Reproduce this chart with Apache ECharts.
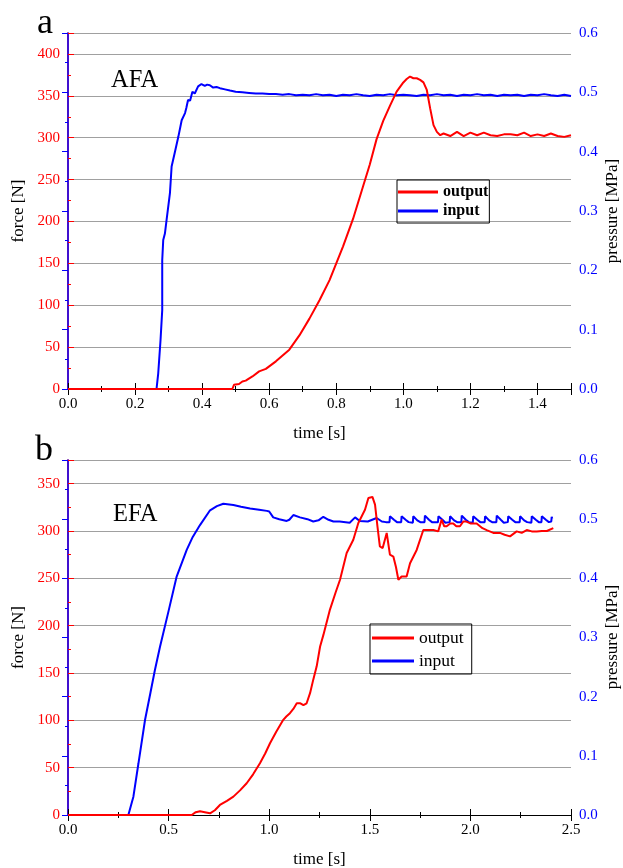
<!DOCTYPE html>
<html>
<head>
<meta charset="utf-8">
<script src="https://cdn.jsdelivr.net/npm/echarts@6/dist/echarts.min.js"></script>
<style>html,body{margin:0;padding:0;background:#fff;overflow:hidden;}#c{width:623px;height:868px;}</style>
</head>
<body>
<div id="c"></div>
<script>
// ---------- Panel a (AFA) ----------
const afaOutT = [0, 0.49, 0.495, 0.5, 0.51, 0.52, 0.53, 0.55, 0.57, 0.59, 0.6, 0.62, 0.64, 0.66, 0.69, 0.72, 0.75, 0.78, 0.8, 0.82, 0.85, 0.88, 0.9, 0.92, 0.94, 0.96, 0.98, 1.0, 1.01, 1.02, 1.03, 1.04, 1.05, 1.06, 1.07, 1.08, 1.09, 1.1, 1.11, 1.12, 1.14, 1.16, 1.18, 1.2, 1.22, 1.24, 1.26, 1.28, 1.3, 1.32, 1.34, 1.36, 1.38, 1.4, 1.42, 1.44, 1.46, 1.48, 1.5];
const afaOutF = [0, 0, 5, 6, 6, 9, 10, 15, 21, 24, 27, 33, 40, 47, 64, 84, 106, 130, 150, 170, 203, 242, 268, 298, 320, 338, 355, 366, 370, 373, 371, 371, 369, 366, 357, 335, 315, 307, 303, 305, 302, 307, 302, 306, 303, 306, 303, 302, 304, 304, 303, 306, 302, 304, 302, 305, 302, 301, 303];

const afaInT = [0, 0.264, 0.269, 0.276, 0.281, 0.281, 0.284, 0.289, 0.294, 0.304, 0.309, 0.319, 0.329, 0.339, 0.349, 0.353, 0.358, 0.364, 0.371, 0.378, 0.388, 0.398, 0.408, 0.415, 0.423, 0.433, 0.443, 0.453, 0.468, 0.483, 0.5, 0.52, 0.54, 0.56, 0.58, 0.6,
  0.62, 0.64, 0.66, 0.68, 0.7, 0.72, 0.74, 0.76, 0.78, 0.8, 0.82, 0.84, 0.86, 0.88, 0.9, 0.92, 0.94, 0.96, 0.98, 1.0, 1.02, 1.04, 1.06, 1.08, 1.1, 1.12, 1.14, 1.16, 1.18, 1.2, 1.22, 1.24, 1.26, 1.28, 1.3, 1.32, 1.34, 1.36, 1.38, 1.4, 1.42, 1.44, 1.46, 1.48, 1.5];
const afaInP = [0, 0, 0.026, 0.083, 0.133, 0.217, 0.251, 0.262, 0.285, 0.33, 0.375, 0.4, 0.425, 0.453, 0.465, 0.474, 0.487, 0.486, 0.501, 0.498, 0.51, 0.514, 0.511, 0.513, 0.512, 0.508, 0.509, 0.507, 0.505, 0.503, 0.501, 0.5, 0.499, 0.498, 0.498, 0.497,
  0.497, 0.496, 0.497, 0.495, 0.496, 0.495, 0.497, 0.495, 0.496, 0.494, 0.496, 0.495, 0.497, 0.495, 0.494, 0.496, 0.495, 0.497, 0.495, 0.496, 0.495, 0.494, 0.496, 0.495, 0.497, 0.495, 0.496, 0.494, 0.496, 0.495, 0.497, 0.495, 0.496, 0.494, 0.496, 0.495, 0.496, 0.494, 0.496, 0.495, 0.497, 0.495, 0.494, 0.496, 0.494];

// ---------- Panel b (EFA) ----------
const efaOutT = [0, 0.615, 0.635, 0.656, 0.68, 0.706, 0.73, 0.755, 0.79, 0.822, 0.855, 0.888, 0.92, 0.954, 0.98, 1.004, 1.035, 1.07, 1.085, 1.103, 1.12, 1.137, 1.155, 1.17, 1.186, 1.203, 1.219, 1.236, 1.253, 1.269, 1.302, 1.33, 1.352, 1.385, 1.418, 1.443, 1.476, 1.493, 1.5, 1.513, 1.526, 1.538, 1.55, 1.564, 1.584, 1.6, 1.617, 1.63, 1.642, 1.658, 1.683, 1.7, 1.733, 1.766, 1.79, 1.816, 1.84, 1.857, 1.87, 1.882, 1.9, 1.915, 1.93, 1.948, 1.965, 1.98, 2.0, 2.031, 2.06, 2.081, 2.114, 2.147, 2.17, 2.197, 2.23, 2.255, 2.28, 2.305, 2.33, 2.355, 2.38, 2.412];
const efaOutF = [0, 0, 3, 4, 3, 1.8, 5, 10.6, 15, 19.4, 26, 33.5, 43, 54.7, 65, 75.8, 88, 100.5, 104, 107.5, 112, 118, 118, 116, 118, 128.7, 143, 157, 178, 190, 217, 235, 248.5, 276.7, 290.8, 308.4, 322.5, 334.9, 336.6, 336, 327.8, 305, 283.7, 282, 297.9, 275, 273, 262, 248.5, 252, 252, 266, 280, 301, 301, 301, 299.6, 312, 305, 305, 308, 308, 305, 305, 310, 310, 308, 308, 303, 301, 298, 298, 296, 294.3, 299.6, 298, 301, 299.6, 299.6, 300, 300, 303];

const efaInT = [0, 0.3, 0.325, 0.35, 0.383, 0.41, 0.432, 0.457, 0.5, 0.54, 0.59, 0.62, 0.656, 0.706, 0.74, 0.772, 0.822, 0.86, 0.905, 0.95, 0.988, 1.0, 1.02, 1.05, 1.087, 1.1, 1.12, 1.153, 1.19, 1.219, 1.245, 1.269, 1.295, 1.319, 1.35, 1.4, 1.427, 1.45, 1.49, 1.534, 1.56, 1.58,
  1.598, 1.6, 1.62, 1.635, 1.656, 1.658, 1.678, 1.693, 1.714, 1.716, 1.736, 1.751, 1.772, 1.774, 1.794, 1.809, 1.839, 1.841, 1.861, 1.876, 1.897, 1.899, 1.919, 1.934, 1.955, 1.957, 1.977, 1.992, 2.012, 2.014, 2.034, 2.049, 2.071, 2.073, 2.093, 2.108, 2.129, 2.131, 2.151, 2.166, 2.186, 2.188, 2.208, 2.223, 2.245, 2.247, 2.267, 2.282, 2.303, 2.305, 2.325, 2.34, 2.353, 2.355, 2.375, 2.39, 2.402, 2.404, 2.407];
const efaInP = [0, 0, 0.031, 0.087, 0.161, 0.207, 0.245, 0.284, 0.345, 0.403, 0.448, 0.47, 0.49, 0.515, 0.522, 0.526, 0.524, 0.521, 0.518, 0.516, 0.514, 0.513, 0.503, 0.5, 0.497, 0.499, 0.507, 0.503, 0.5, 0.496, 0.498, 0.504, 0.499, 0.496, 0.496, 0.494, 0.503, 0.497, 0.496, 0.502, 0.496, 0.495,
  0.495, 0.505, 0.499, 0.495, 0.495, 0.505, 0.499, 0.495, 0.494, 0.505, 0.498, 0.495, 0.495, 0.506, 0.499, 0.495, 0.495, 0.505, 0.499, 0.494, 0.495, 0.505, 0.498, 0.495, 0.495, 0.506, 0.499, 0.495, 0.494, 0.505, 0.499, 0.495, 0.495, 0.505, 0.498, 0.495, 0.495, 0.506, 0.499, 0.494, 0.495, 0.505, 0.499, 0.495, 0.495, 0.505, 0.498, 0.495, 0.494, 0.505, 0.499, 0.495, 0.495, 0.505, 0.499, 0.495, 0.496, 0.504, 0.501];

const legendNames = ['output', 'input'];
const panelLabels = ['a', 'b'];
const panelTitles = ['AFA', 'EFA'];
const rightName = 'pressure [MPa]';

const zip = (a, b) => a.map((v, i) => [v, b[i]]);
const FONT = 'Liberation Serif';
const RED = '#ff0000', BLUE = '#0000ff', GRIDC = '#a0a0a0';

function xAxes(gi, max, interval) {
  const base = {
    gridIndex: gi, type: 'value', min: 0, max: max, interval: interval,
    axisLine: { lineStyle: { color: '#000', width: 1.2 } },
    axisTick: { inside: true, length: 6, lineStyle: { color: '#000' } },
    minorTick: { show: true, splitNumber: 2, length: 3, lineStyle: { color: '#000' } },
    splitLine: { show: false }
  };
  return [
    Object.assign({}, base, {
      position: 'bottom',
      name: 'time [s]', nameLocation: 'middle', nameGap: 36,
      nameTextStyle: { fontFamily: FONT, fontSize: 17, color: '#000' },
      axisLabel: { fontFamily: FONT, fontSize: 15, color: '#000', margin: 8, showMaxLabel: (max / interval) % 1 === 0,
        formatter: v => v.toFixed(1) }
    }),
    Object.assign({}, base, { position: 'top', axisLabel: { show: false } })
  ];
}
function yAxes(gi, max) {
  return [
    {
      gridIndex: gi, type: 'value', position: 'left', min: 0, max: max, interval: 50,
      name: 'force [N]', nameLocation: 'middle', nameGap: 38,
      nameTextStyle: { fontFamily: FONT, fontSize: 17, color: '#000' },
      axisLine: { show: true, lineStyle: { color: RED, width: 1.5 } },
      axisTick: { show: true, inside: true, length: 6, lineStyle: { color: RED } },
      minorTick: { show: true, splitNumber: 2, length: 3, lineStyle: { color: RED } },
      axisLabel: { fontFamily: FONT, fontSize: 15, color: RED, margin: 8, showMaxLabel: false },
      splitLine: { show: true, lineStyle: { color: GRIDC, width: 1 } }
    },
    {
      gridIndex: gi, type: 'value', position: 'right', min: 0, max: 0.6, interval: 0.1,
      axisLine: { show: true, lineStyle: { color: BLUE, width: 1.5 } },
      axisTick: { show: true, inside: true, length: 6, lineStyle: { color: BLUE } },
      minorTick: { show: true, splitNumber: 2, length: 3, lineStyle: { color: BLUE } },
      axisLabel: { fontFamily: FONT, fontSize: 15, color: BLUE, margin: 8, formatter: v => v.toFixed(1) },
      splitLine: { show: false }
    }
  ];
}
function line(name, data, xi, yi, color) {
  return { name: name, type: 'line', xAxisIndex: xi, yAxisIndex: yi, data: data,
    symbol: 'none', showSymbol: false, animation: false,
    lineStyle: { color: color, width: 2 }, itemStyle: { color: color } };
}
function vText(txt, x, y) {
  return { type: 'text', x: x, y: y, rotation: Math.PI / 2,
    style: { text: txt, font: '17px "Liberation Serif"', fill: '#000', align: 'center', verticalAlign: 'middle' } };
}

const chart = echarts.init(document.getElementById('c'), null, { renderer: 'canvas' });
chart.setOption({
  backgroundColor: '#fff',
  animation: false,
  grid: [
    { left: 68, top: 33, width: 503, height: 356, containLabel: false, outerBoundsMode: 'none' },
    { left: 68, top: 460, width: 503, height: 355, containLabel: false, outerBoundsMode: 'none' }
  ],
  xAxis: [...xAxes(0, 1.5, 0.2), ...xAxes(1, 2.5, 0.5)],
  yAxis: [...yAxes(0, 425), ...yAxes(1, 375)],
  legend: [
    { data: legendNames, orient: 'vertical', left: 397, top: 180, padding: [4, 1, 4, 1], itemGap: 3,
      itemWidth: 40, itemHeight: 3, icon: 'rect', borderColor: '#000', borderWidth: 1,
      textStyle: { fontFamily: FONT, fontSize: 16, fontWeight: 'bold', color: '#000' } },
    { data: legendNames, orient: 'vertical', left: 370, top: 624, padding: [5, 8, 4, 2], itemGap: 5,
      itemWidth: 42, itemHeight: 3, icon: 'rect', borderColor: '#000', borderWidth: 1,
      textStyle: { fontFamily: FONT, fontSize: 17.5, color: '#000' } }
  ],
  graphic: [
    { type: 'text', left: 37, top: 6, style: { text: panelLabels[0], font: '36px "Liberation Serif"', fill: '#000' } },
    { type: 'text', left: 35, top: 433, style: { text: panelLabels[1], font: '36px "Liberation Serif"', fill: '#000' } },
    { type: 'text', left: 111, top: 68, style: { text: panelTitles[0], font: '24.5px "Liberation Serif"', fill: '#000' } },
    { type: 'text', left: 113, top: 502, style: { text: panelTitles[1], font: '24.5px "Liberation Serif"', fill: '#000' } },
    vText(rightName, 613, 211),
    vText(rightName, 613, 637)
  ],
  series: [
    line('input', zip(afaInT, afaInP), 0, 1, BLUE),
    line('output', zip(afaOutT, afaOutF), 0, 0, RED),
    line('input', zip(efaInT, efaInP), 2, 3, BLUE),
    line('output', zip(efaOutT, efaOutF), 2, 2, RED)
  ]
});
</script>
</body>
</html>
